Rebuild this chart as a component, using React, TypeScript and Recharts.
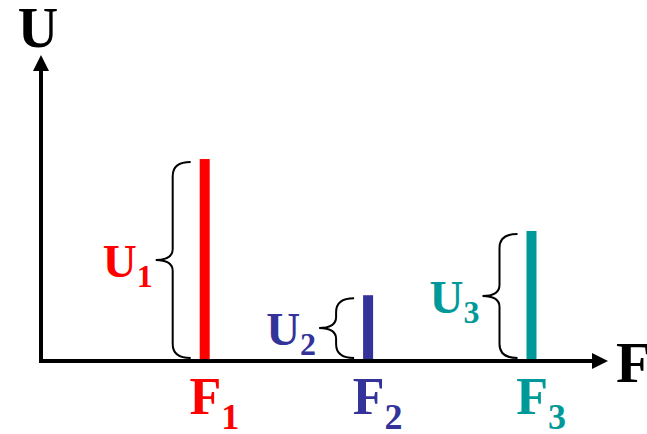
import { BarChart, Bar, XAxis, YAxis, ReferenceLine } from 'recharts'

// spectral lines: frequency index and amplitude
const FREQS = [1, 2, 3]
const AMPLITUDES = [6.6, 2.15, 4.25]
const SUBSCRIPTS = ['1', '2', '3']

const LINE_COLORS = ['#ff0000', '#333399', '#009999']
const FONT = '"Liberation Serif", "Times New Roman", serif'

const data = FREQS.map((f, i) => ({ f, u: AMPLITUDES[i], sub: SUBSCRIPTS[i], color: LINE_COLORS[i] }))

// bar + curly brace on its left + U_n label
function SpectralLine(props: any) {
  const { x, y, width, height, payload } = props
  const cx = x + width / 2
  const bottom = y + height
  const y0 = y + 3
  const y1 = bottom - 3
  const mid = (y0 + y1) / 2
  const e = cx - 14
  const s = cx - 32
  const t = cx - 49
  const r = Math.min(14, (y1 - y0) / 4)
  const rm = Math.min(11, (y1 - y0) / 4)
  const brace = [
    `M${e},${y0}`,
    `Q${s},${y0} ${s},${y0 + r}`,
    `L${s},${mid - rm}`,
    `Q${s},${mid} ${t},${mid}`,
    `Q${s},${mid} ${s},${mid + rm}`,
    `L${s},${y1 - r}`,
    `Q${s},${y1} ${e},${y1}`,
  ].join(' ')
  return (
    <g>
      <rect x={cx - 5} y={y} width={10} height={height} fill={payload.color} />
      <path d={brace} fill="none" stroke="#000" strokeWidth={2} />
      <text
        x={t - 3}
        y={mid + 17}
        textAnchor="end"
        fill={payload.color}
        fontFamily={FONT}
        fontWeight="bold"
        fontSize={47}
      >
        U<tspan dy={10} fontSize={32}>{payload.sub}</tspan>
      </text>
    </g>
  )
}

function FTick(props: any) {
  const { x, y, payload, index } = props
  return (
    <text
      x={x - 15}
      y={y + 53}
      fill={LINE_COLORS[index]}
      fontFamily={FONT}
      fontWeight="bold"
      fontSize={52}
    >
      F<tspan dy={15} fontSize={36}>{SUBSCRIPTS[index]}</tspan>
    </text>
  )
}

function ArrowAxis(props: any) {
  const { x1, y1, x2, y2 } = props
  if (y1 === y2) {
    const tip = Math.max(x1, x2)
    const start = Math.min(x1, x2) - 2
    return (
      <g>
        <line x1={start} y1={y1} x2={tip - 12} y2={y1} stroke="#000" strokeWidth={4} />
        <polygon points={`${tip},${y1} ${tip - 16},${y1 - 8} ${tip - 16},${y1 + 8}`} fill="#000" />
        <text x={tip + 8} y={y1 + 21} fontFamily={FONT} fontWeight="bold" fontSize={58} fill="#000">
          F
        </text>
      </g>
    )
  }
  const tip = Math.min(y1, y2)
  const end = Math.max(y1, y2) + 2
  return (
    <g>
      <line x1={x1} y1={end} x2={x1} y2={tip + 12} stroke="#000" strokeWidth={4} />
      <polygon points={`${x1},${tip} ${x1 - 8},${tip + 16} ${x1 + 8},${tip + 16}`} fill="#000" />
      <text x={x1 - 3} y={tip - 8} textAnchor="middle" fontFamily={FONT} fontWeight="bold" fontSize={56} fill="#000">
        U
      </text>
    </g>
  )
}

export default function App() {
  return (
    <div style={{ position: 'absolute', left: 0, top: 0, width: 647, height: 434, background: '#fff' }}>
      <BarChart width={647} height={434} data={data} margin={{ top: 55, right: 39, left: 41, bottom: 0 }}>
        <XAxis
          type="number"
          dataKey="f"
          domain={[0, 3.47]}
          ticks={FREQS}
          height={73}
          axisLine={false}
          tickLine={false}
          tickSize={0}
          tickMargin={0}
          tick={<FTick />}
          interval={0}
        />
        <YAxis hide domain={[0, 10]} />
        <ReferenceLine x={0} shape={<ArrowAxis />} />
        <ReferenceLine y={0} shape={<ArrowAxis />} />
        <Bar dataKey="u" barSize={10} shape={<SpectralLine />} isAnimationActive={false} />
      </BarChart>
    </div>
  )
}
